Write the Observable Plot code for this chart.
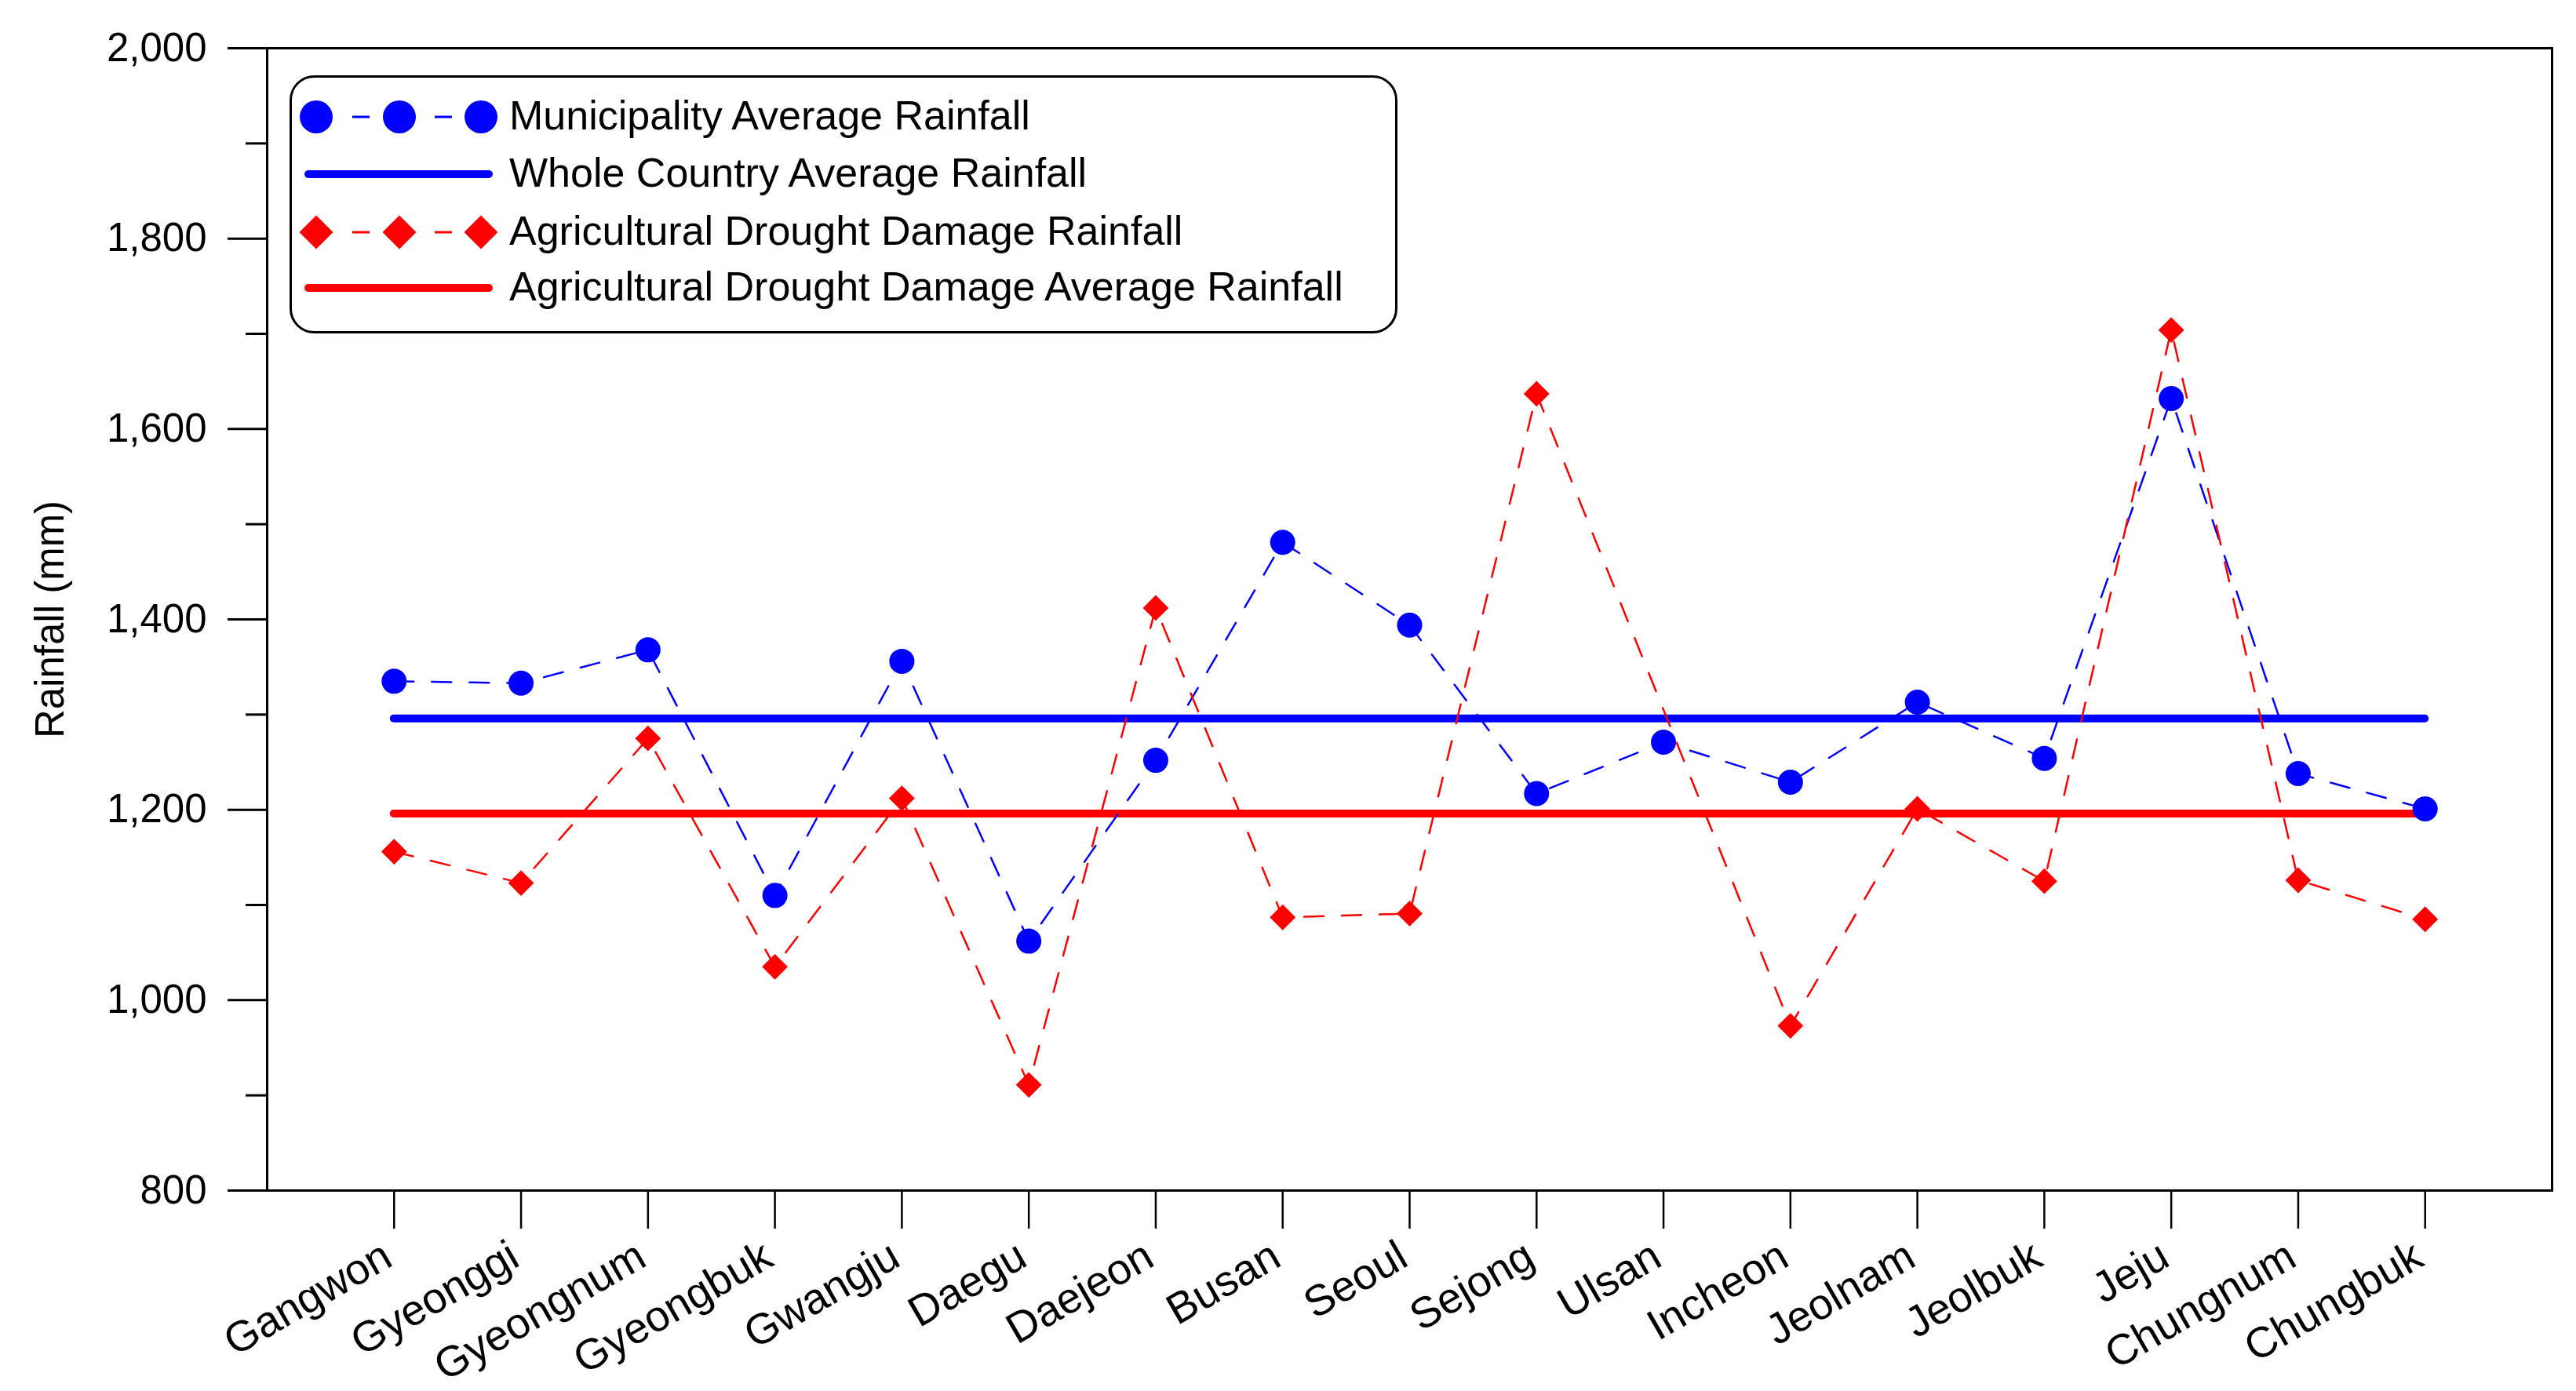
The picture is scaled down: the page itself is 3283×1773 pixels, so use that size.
<!DOCTYPE html>
<html>
<head>
<meta charset="utf-8">
<script src="https://cdn.jsdelivr.net/npm/d3@7"></script>
<script src="https://cdn.jsdelivr.net/npm/@observablehq/plot@0.6"></script>
<style>
  html, body { margin: 0; padding: 0; background: #fff; }
  #wrap { position: relative; width: 3283px; height: 1773px; overflow: hidden; }
  #legend { position: absolute; left: 369px; top: 96px; }
</style>
</head>
<body>
<div id="wrap"></div>
<script>
// ---- data ----
const regions = ["Gangwon", "Gyeonggi", "Gyeongnum", "Gyeongbuk", "Gwangju", "Daegu", "Daejeon", "Busan", "Seoul", "Sejong", "Ulsan", "Incheon", "Jeolnam", "Jeolbuk", "Jeju", "Chungnum", "Chungbuk"];
const municipalityRainfall = [1335, 1333, 1368, 1110, 1356, 1062, 1252, 1481, 1394, 1217, 1271, 1229, 1313, 1254, 1632, 1238, 1201];
const droughtDamageRainfall = [1156, 1123, 1275, 1035, 1212, 911, 1412, 1087, 1091, 1637, null, 973, 1201, 1125, 1704, 1126, 1085];
const wholeCountryAverage = 1296;
const droughtDamageAverage = 1196;
const yMajorTicks = [800, 1000, 1200, 1400, 1600, 1800, 2000];
const yMinorTicks = [900, 1100, 1300, 1500, 1700, 1900];
const legendLabels = [
  "Municipality Average Rainfall",
  "Whole Country Average Rainfall",
  "Agricultural Drought Damage Rainfall",
  "Agricultural Drought Damage Average Rainfall"
];

const BLUE = "#0000ff", RED = "#ff0000";
const FONT = "'Liberation Sans', Arial, Helvetica, sans-serif";

const positions = regions.map((_, i) => i + 1);
const muni = regions.map((r, i) => ({pos: i + 1, region: r, value: municipalityRainfall[i]}));
const drought = regions.map((r, i) => ({pos: i + 1, region: r, value: droughtDamageRainfall[i]}))
  .filter(d => d.value != null);

const chart = Plot.plot({
  width: 3283,
  height: 1773,
  marginLeft: 340,
  marginRight: 31,
  marginTop: 61,
  marginBottom: 256,
  style: {fontFamily: FONT, fontSize: "51px", color: "black", background: "white", overflow: "visible"},
  x: {type: "linear", domain: [0, regions.length + 1]},
  y: {domain: [800, 2000]},
  marks: [
    Plot.axisY({ticks: yMajorTicks, tickSize: 50, tickPadding: 27, tickFormat: d3.format(","), strokeWidth: 3, fontSize: 51, label: null}),
    Plot.axisY({ticks: yMinorTicks, tickSize: 27, tickFormat: () => "", strokeWidth: 3, label: null}),
    Plot.axisX({ticks: positions, tickSize: 49, tickFormat: () => "", strokeWidth: 2.5, label: null}),
    Plot.axisX({ticks: positions, tickSize: 0, tickPadding: 79, tickRotate: -30, tickFormat: p => regions[p - 1], fontSize: 55, dx: -8, label: null}),
    Plot.ruleY([wholeCountryAverage], {x1: 1, x2: regions.length, stroke: BLUE, strokeWidth: 10, strokeLinecap: "round"}),
    Plot.ruleY([droughtDamageAverage], {x1: 1, x2: regions.length, stroke: RED, strokeWidth: 10, strokeLinecap: "round"}),
    Plot.line(muni, {x: "pos", y: "value", stroke: BLUE, strokeWidth: 2.5, strokeDasharray: "25,23"}),
    Plot.line(drought, {x: "pos", y: "value", stroke: RED, strokeWidth: 2.5, strokeDasharray: "25,23"}),
    Plot.dot(muni, {x: "pos", y: "value", r: 16, fill: BLUE, stroke: "none", symbol: "circle"}),
    Plot.dot(drought, {x: "pos", y: "value", r: 14.8, fill: RED, stroke: "none", symbol: "diamond2"}),
    Plot.frame({stroke: "black", strokeWidth: 3}),
    Plot.text(["Rainfall (mm)"], {frameAnchor: "left", textAnchor: "middle", lineAnchor: "middle", dx: -276, rotate: -90, fontSize: 51, fill: "black"})
  ]
});
document.getElementById("wrap").appendChild(chart);

// ---- legend (overlay box) ----
const lw = 1412, lh = 330;
const leg = d3.select("#wrap").append("svg")
  .attr("id", "legend")
  .attr("width", lw).attr("height", lh)
  .style("font-family", FONT);
leg.append("rect")
  .attr("x", 1.5).attr("y", 1.5).attr("width", lw - 3).attr("height", lh - 4)
  .attr("rx", 30).attr("ry", 30)
  .attr("fill", "white").attr("stroke", "black").attr("stroke-width", 3);

const rowY = [53, 126, 200, 271];
const markerX = [34, 140, 244];
const items = [
  {kind: "marker", color: BLUE, shape: d3.symbolCircle, size: Math.PI * 21 * 21},
  {kind: "line", color: BLUE},
  {kind: "marker", color: RED, shape: d3.symbolDiamond2, size: Math.pow(21.5 / 0.62625, 2)},
  {kind: "line", color: RED}
];
items.forEach((it, i) => {
  const g = leg.append("g").attr("transform", `translate(0,${rowY[i]})`);
  if (it.kind === "marker") {
    for (let k = 0; k < markerX.length - 1; k++) {
      const mid = (markerX[k] + markerX[k + 1]) / 2 + 4;
      g.append("line").attr("x1", mid - 11).attr("x2", mid + 11).attr("y1", 0).attr("y2", 0)
        .attr("stroke", it.color).attr("stroke-width", 3);
    }
    markerX.forEach(mx => {
      g.append("path").attr("d", d3.symbol(it.shape, it.size)()).attr("transform", `translate(${mx},0)`)
        .attr("fill", it.color);
    });
  } else {
    g.append("line").attr("x1", 24).attr("x2", 254).attr("y1", 0).attr("y2", 0)
      .attr("stroke", it.color).attr("stroke-width", 10).attr("stroke-linecap", "round");
  }
  g.append("text").attr("x", 280).attr("y", 16).attr("font-size", 52).attr("fill", "black")
    .text(legendLabels[i]);
});
</script>
</body>
</html>
